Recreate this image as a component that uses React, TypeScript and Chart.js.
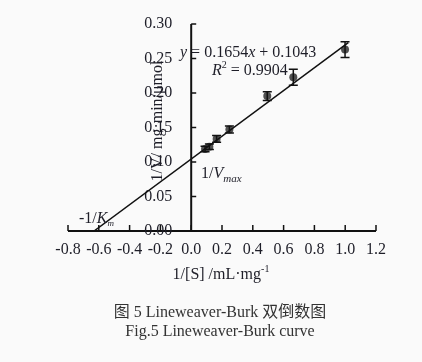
import React, { useEffect, useRef } from "react";
import { Chart, registerables } from "chart.js";

Chart.register(...registerables);

// ---- data ----
const X_TICKS = ["-0.8", "-0.6", "-0.4", "-0.2", "0.0", "0.2", "0.4", "0.6", "0.8", "1.0", "1.2"];
const Y_TICKS = ["0.00", "0.05", "0.10", "0.15", "0.20", "0.25", "0.30"];
const INV_S = [0.09, 0.118, 0.165, 0.248, 0.494, 0.663, 0.999];
const INV_V = [0.119, 0.122, 0.1335, 0.147, 0.1956, 0.2228, 0.263];
const ERR = [0.004, 0.004, 0.005, 0.005, 0.0063, 0.0116, 0.0114];
const FIT_X = [-0.631, 1.02];
const FIT_Y = [0, 0.273];

const SERIF = '"Liberation Serif", "Times New Roman", serif';
const TEXT = "#1e1e28";

type Part = { t: string; i?: boolean; s?: number; dy?: number };

function drawRich(ctx: CanvasRenderingContext2D, x: number, y: number, parts: Part[], size = 16, align: "left" | "center" = "left") {
  const fontOf = (p: Part) => `${p.i ? "italic " : ""}${p.s || size}px ${SERIF}`;
  let total = 0;
  for (const p of parts) {
    ctx.font = fontOf(p);
    total += ctx.measureText(p.t).width;
  }
  let cx = align === "center" ? x - total / 2 : x;
  ctx.textAlign = "left";
  ctx.textBaseline = "alphabetic";
  for (const p of parts) {
    ctx.font = fontOf(p);
    ctx.fillText(p.t, cx, y + (p.dy || 0));
    cx += ctx.measureText(p.t).width;
  }
}

const axesPlugin = {
  id: "lbAxes",
  beforeDatasetsDraw(chart: any) {
    const { ctx, chartArea } = chart;
    const xs = chart.scales.x;
    const ys = chart.scales.y;
    const x0 = xs.getPixelForValue(0);
    const y0 = ys.getPixelForValue(0);
    ctx.save();
    ctx.strokeStyle = "#111";
    ctx.lineWidth = 2;
    ctx.beginPath();
    ctx.moveTo(chartArea.left, y0);
    ctx.lineTo(chartArea.right, y0);
    ctx.stroke();
    ctx.beginPath();
    ctx.moveTo(x0, chartArea.top);
    ctx.lineTo(x0, y0);
    ctx.stroke();
    // ticks
    ctx.lineWidth = 1.5;
    for (const t of X_TICKS) {
      const px = xs.getPixelForValue(parseFloat(t));
      ctx.beginPath();
      ctx.moveTo(px, y0);
      ctx.lineTo(px, y0 - 6);
      ctx.stroke();
    }
    for (const t of Y_TICKS) {
      const py = ys.getPixelForValue(parseFloat(t));
      ctx.beginPath();
      ctx.moveTo(x0, py);
      ctx.lineTo(x0 + 5, py);
      ctx.stroke();
    }
    // tick labels
    ctx.fillStyle = TEXT;
    ctx.font = `16px ${SERIF}`;
    ctx.textAlign = "center";
    ctx.textBaseline = "middle";
    for (const t of X_TICKS) {
      ctx.fillText(t, xs.getPixelForValue(parseFloat(t)), y0 + 19);
    }
    ctx.textAlign = "right";
    for (const t of Y_TICKS) {
      ctx.fillText(t, x0 - 19, ys.getPixelForValue(parseFloat(t)));
    }
    // y title
    ctx.save();
    ctx.translate(158, 121);
    ctx.rotate(-Math.PI / 2);
    ctx.textAlign = "center";
    ctx.textBaseline = "middle";
    ctx.font = `16px ${SERIF}`;
    ctx.fillText("1/V/ mg·min/μmol", 0, 0);
    ctx.restore();
    // x title
    drawRich(ctx, 221, 279, [{ t: "1/[S] /mL·mg" }, { t: "-1", s: 10, dy: -7 }], 16, "center");
    ctx.restore();
  },
  afterDatasetsDraw(chart: any) {
    const { ctx } = chart;
    const xs = chart.scales.x;
    const ys = chart.scales.y;
    ctx.save();
    // error bars
    ctx.strokeStyle = "#111";
    ctx.lineWidth = 1.5;
    for (let k = 0; k < INV_S.length; k++) {
      const px = xs.getPixelForValue(INV_S[k]);
      const pt = ys.getPixelForValue(INV_V[k] + ERR[k]);
      const pb = ys.getPixelForValue(INV_V[k] - ERR[k]);
      ctx.beginPath();
      ctx.moveTo(px, pt);
      ctx.lineTo(px, pb);
      ctx.moveTo(px - 4.5, pt);
      ctx.lineTo(px + 4.5, pt);
      ctx.moveTo(px - 4.5, pb);
      ctx.lineTo(px + 4.5, pb);
      ctx.stroke();
    }
    // annotations
    ctx.fillStyle = TEXT;
    drawRich(ctx, 180, 57, [{ t: "y", i: true }, { t: " = 0.1654" }, { t: "x", i: true }, { t: " + 0.1043" }]);
    drawRich(ctx, 212, 75, [{ t: "R", i: true }, { t: "2", s: 10, dy: -7 }, { t: " = 0.9904" }]);
    drawRich(ctx, 201, 178, [{ t: "1/" }, { t: "V", i: true }, { t: "max", i: true, s: 11, dy: 4 }]);
    drawRich(ctx, 79, 223, [{ t: "-1/" }, { t: "K", i: true }, { t: "m", i: true, s: 9, dy: 3 }]);
    ctx.restore();
  },
};

export default function App() {
  const ref = useRef<HTMLCanvasElement>(null);
  useEffect(() => {
    if (!ref.current) return;
    const chart = new Chart(ref.current, {
      type: "scatter",
      data: {
        datasets: [
          {
            type: "line",
            data: FIT_X.map((x, i) => ({ x, y: FIT_Y[i] })),
            borderColor: "#111",
            borderWidth: 1.5,
            pointRadius: 0,
            fill: false,
          } as any,
          {
            type: "scatter",
            data: INV_S.map((x, i) => ({ x, y: INV_V[i] })),
            backgroundColor: "#505050",
            borderColor: "#505050",
            pointRadius: 4,
            borderWidth: 0,
          },
        ],
      },
      options: {
        animation: false,
        responsive: false,
        devicePixelRatio: 1,
        layout: { padding: { left: 68, right: 46, top: 24, bottom: 131 } },
        plugins: { legend: { display: false }, tooltip: { enabled: false } },
        scales: {
          x: { type: "linear", min: -0.8, max: 1.2, display: false },
          y: { type: "linear", min: 0, max: 0.3, display: false },
        },
      },
      plugins: [axesPlugin],
    });
    return () => chart.destroy();
  }, []);

  return (
    <div style={{ position: "absolute", left: 0, top: 0, width: 422, height: 362, background: "#fafafa", overflow: "hidden" }}>
      <canvas ref={ref} width={422} height={362} style={{ position: "absolute", left: 0, top: 0, width: 422, height: 362 }} />
      <div
        style={{
          position: "absolute",
          left: 0,
          top: 302,
          width: 440,
          textAlign: "center",
          fontFamily: '"Liberation Serif", "Noto Sans CJK SC", serif',
          fontSize: 16,
          lineHeight: "19px",
          color: "#333",
        }}
      >
        <div>图 5 Lineweaver-Burk 双倒数图</div>
        <div>Fig.5 Lineweaver-Burk curve</div>
      </div>
    </div>
  );
}
